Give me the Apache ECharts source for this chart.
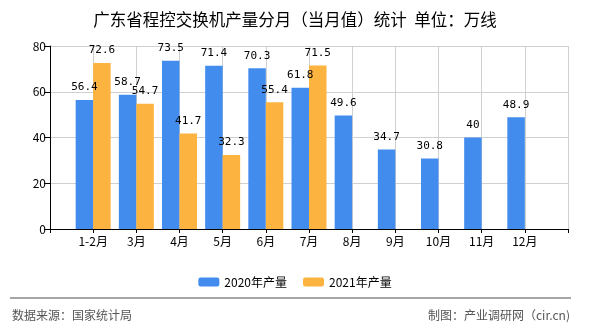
<!DOCTYPE html>
<html>
<head>
<meta charset="utf-8">
<script src="https://cdn.jsdelivr.net/npm/echarts@6/dist/echarts.min.js"></script>
<style>html,body{margin:0;padding:0;background:#fff;}#c{width:590px;height:330px;}</style>
</head>
<body>
<div id="c"></div>
<script>
var months = ['1-2月','3月','4月','5月','6月','7月','8月','9月','10月','11月','12月'];
var values2020 = [56.4, 58.7, 73.5, 71.4, 70.3, 61.8, 49.6, 34.7, 30.8, 40, 48.9];
var values2021 = [72.6, 54.7, 41.7, 32.3, 55.4, 71.5];
var seriesNames = ['2020年产量', '2021年产量'];
var yTicks = [0, 20, 40, 60, 80];

var xData = [''].concat(months, ['']);
function pad(arr) {
  var out = [null].concat(arr);
  while (out.length < xData.length) out.push(null);
  return out;
}

var chart = echarts.init(document.getElementById('c'), null, {renderer: 'canvas'});
var labelCfg = {
  show: true, position: 'top', distance: 7,
  fontFamily: 'DejaVu Sans Mono', fontSize: 11, color: '#000'
};
chart.setOption({
  animation: false,
  textStyle: {fontFamily: 'Noto Sans CJK SC'},
  title: {
    text: '广东省程控交换机产量分月（当月值）统计  单位：万线',
    left: 'center', top: 6,
    textStyle: {fontSize: 16.5, fontWeight: 'normal', color: '#000', fontFamily: 'Noto Sans CJK SC'}
  },
  legend: {
    data: seriesNames,
    left: 'center', top: 271,
    itemWidth: 21, itemHeight: 9, itemGap: 16,
    textStyle: {fontSize: 12, color: '#000', fontFamily: 'Noto Sans CJK SC'}
  },
  grid: {left: 50, right: 22, top: 46, bottom: 101, containLabel: false},
  xAxis: {
    type: 'category', data: xData, boundaryGap: false,
    axisLine: {lineStyle: {color: '#000', width: 1}},
    axisTick: {show: true, length: 4, interval: 0, lineStyle: {color: '#000'}},
    axisLabel: {interval: 0, color: '#000', fontSize: 12, margin: 6},
    splitLine: {show: true, interval: 0, lineStyle: {color: '#d0d0d0'}}
  },
  yAxis: {
    type: 'value', min: yTicks[0], max: yTicks[yTicks.length - 1], interval: 20,
    axisLine: {show: true, lineStyle: {color: '#000'}},
    axisTick: {show: true, length: 6, lineStyle: {color: '#000'}},
    axisLabel: {color: '#000', fontSize: 12, margin: 4},
    splitLine: {lineStyle: {color: '#d0d0d0'}}
  },
  series: [
    {name: seriesNames[0], type: 'bar', data: pad(values2020), barWidth: 17.5, barGap: '0%',
     itemStyle: {color: '#428CEE'}, label: labelCfg},
    {name: seriesNames[1], type: 'bar', data: pad(values2021), barWidth: 17.5, barGap: '0%',
     itemStyle: {color: '#FDB33F'}, label: labelCfg}
  ],
  graphic: [
    {type: 'line', shape: {x1: 10, y1: 298, x2: 571, y2: 298}, style: {stroke: '#888', lineWidth: 1.5}},
    {type: 'text', left: 12, top: 309, style: {text: '数据来源：国家统计局', fontSize: 12, fill: '#555', fontFamily: 'Noto Sans CJK SC'}},
    {type: 'text', right: 20, top: 309, style: {text: '制图：产业调研网（cir.cn)', fontSize: 12, fill: '#555', fontFamily: 'Noto Sans CJK SC'}}
  ]
});
</script>
</body>
</html>
